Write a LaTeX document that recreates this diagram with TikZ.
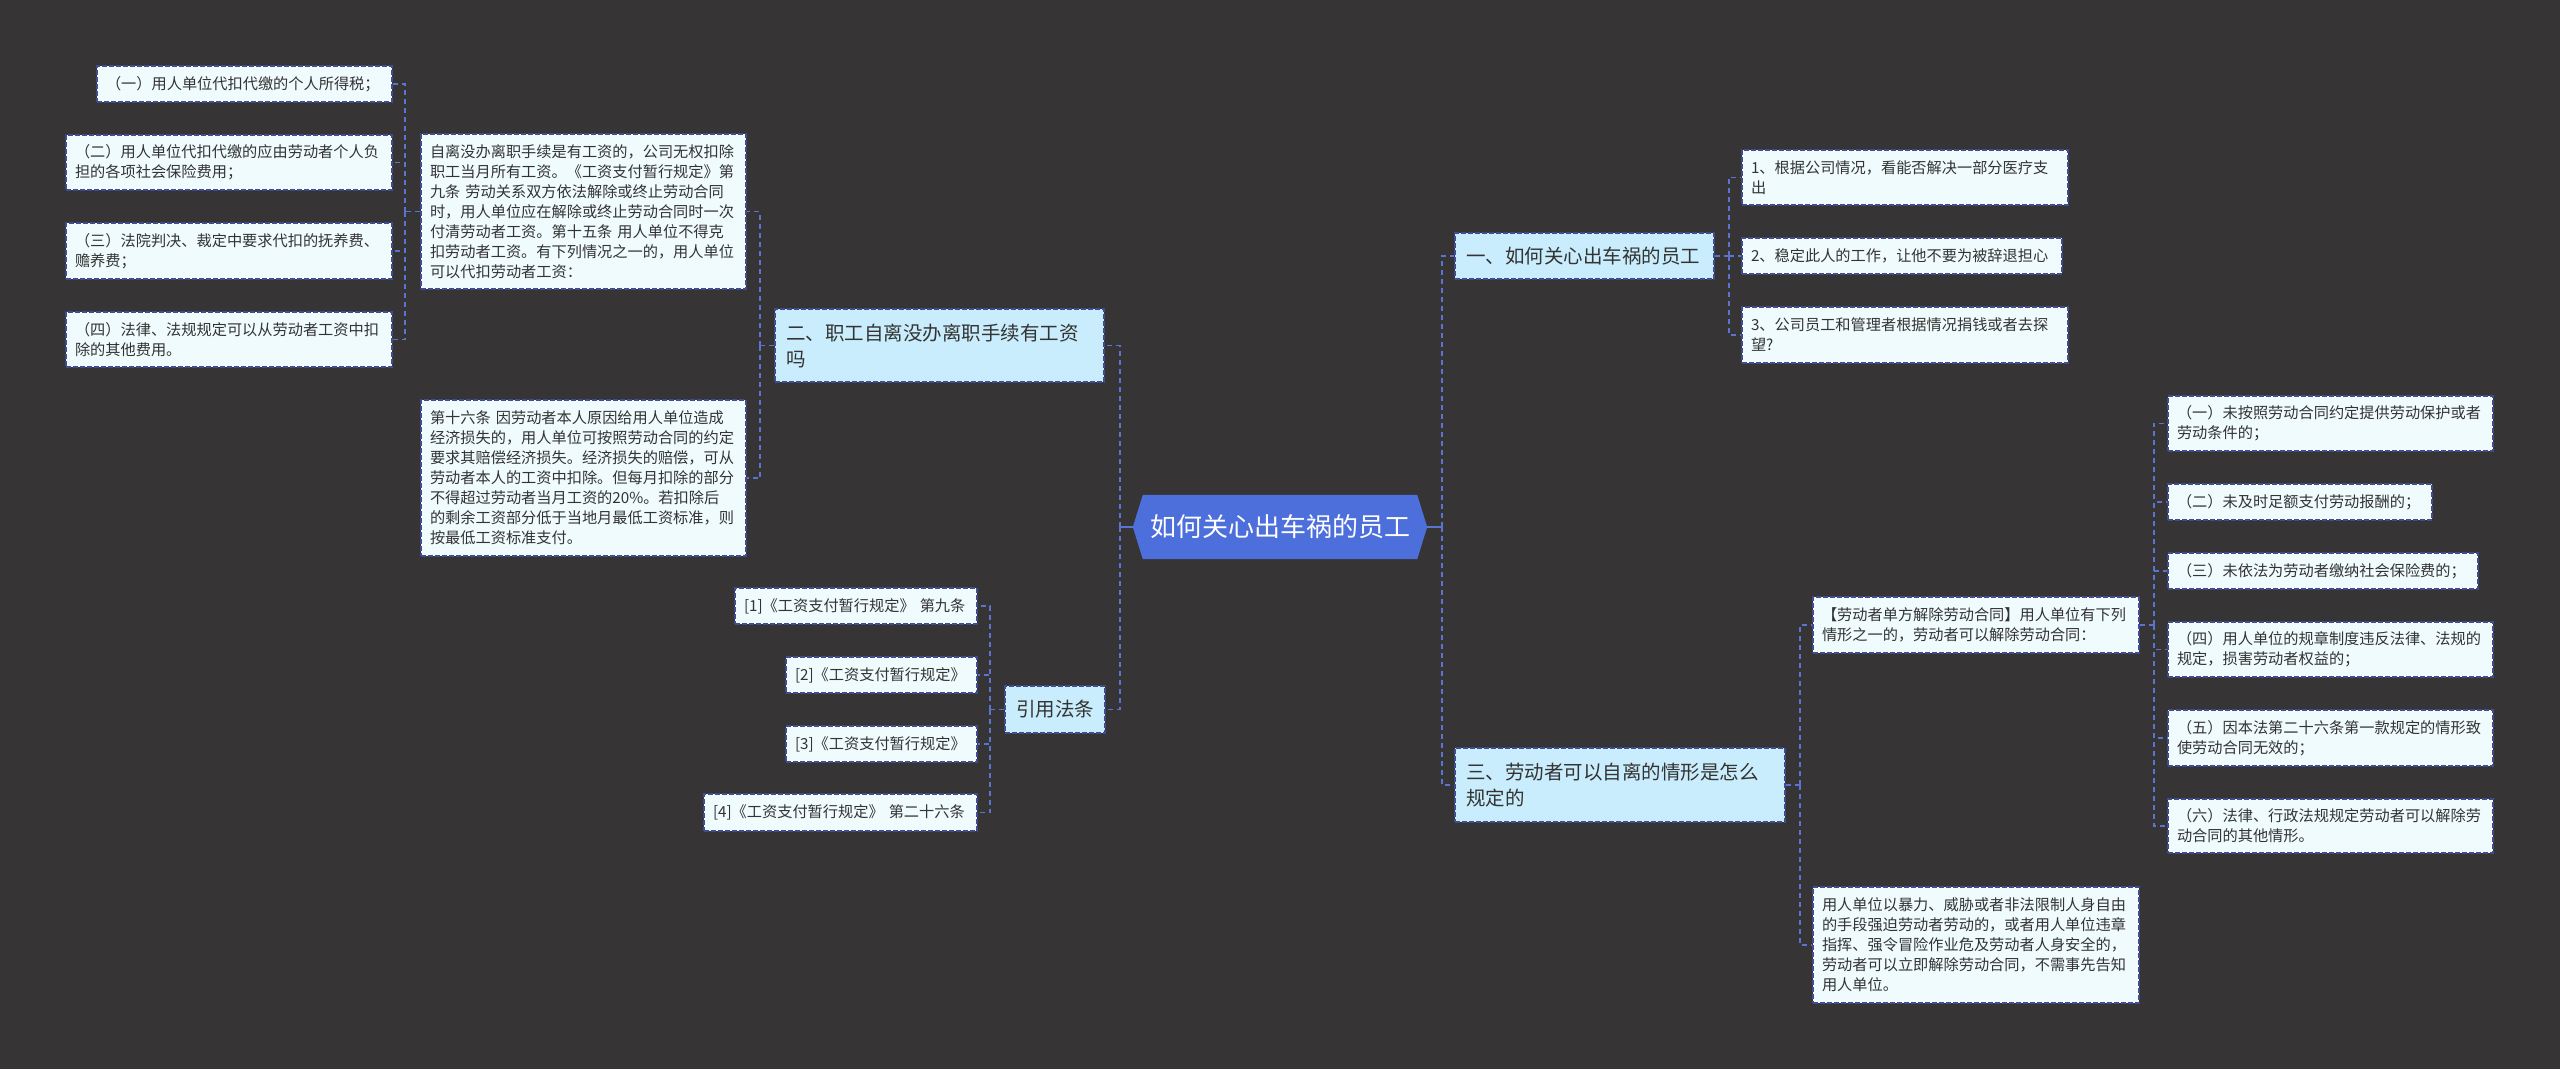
\documentclass[tikz,border=0pt]{standalone}
\usepackage{fontspec}
\setmainfont{Noto Sans CJK SC}
\usetikzlibrary{calc}
\definecolor{bgc}{HTML}{363435}
\definecolor{leafc}{HTML}{F0FBFD}
\definecolor{lvlc}{HTML}{C9EDFC}
\definecolor{ctrc}{HTML}{4D6FDB}
\definecolor{bordc}{HTML}{3F4C92}
\definecolor{connc}{HTML}{5A74D2}
\definecolor{txtc}{HTML}{333333}
\tikzset{
  boxbase/.style={draw=bordc, line width=1.6pt, dash pattern=on 5pt off 2pt, text=txtc, align=left, inner ysep=0pt},
  leaf/.style={boxbase, fill=leafc, inner xsep=9pt, font=\fontsize{15.2}{20}\selectfont},
  lvl/.style={boxbase, fill=lvlc, inner xsep=11pt, font=\fontsize{19.5}{26}\selectfont},
  conn/.style={draw=connc, line width=1.8pt, dash pattern=on 5pt off 4pt},
  stub/.style={draw=connc, line width=2pt},
}
\begin{document}
\begin{tikzpicture}[x=1pt,y=-1pt]
\fill[bgc] (0,0) rectangle (2560,1069);
\useasboundingbox (0,0) rectangle (2560,1069);

% centre
\node[minimum width=294pt, minimum height=64pt, inner sep=0pt] (ctr) at (1280,527) {};
\fill[ctrc] (ctr.west) -- ($(ctr.north west)+(10,0)$) -- ($(ctr.north east)+(-10,0)$) -- (ctr.east) -- ($(ctr.south east)+(-10,0)$) -- ($(ctr.south west)+(10,0)$) -- cycle;
\node[text=white, font=\fontsize{26}{30}\selectfont] (ctrt) at (ctr.center) {如何关心出车祸的员工};

% left level 1
\node[lvl, text width=307pt, minimum height=73pt] (n2) at (939.5,345.5) {二、职工自离没办离职手续有工资\\吗};
\node[lvl, text width=78pt, minimum height=47pt, align=center] (nr) at (1055,709.5) {引用法条};

% left leaves
\node[leaf, text width=307pt, minimum height=155pt] (b1) at (583.5,211.5) {自离没办离职手续是有工资的，公司无权扣除\\职工当月所有工资。《工资支付暂行规定》第\\九条~劳动关系双方依法解除或终止劳动合同\\时，用人单位应在解除或终止劳动合同时一次\\付清劳动者工资。第十五条~用人单位不得克\\扣劳动者工资。有下列情况之一的，用人单位\\可以代扣劳动者工资：};
\node[leaf, text width=307pt, minimum height=156pt] (b2) at (583.5,478) {第十六条~因劳动者本人原因给用人单位造成\\经济损失的，用人单位可按照劳动合同的约定\\要求其赔偿经济损失。经济损失的赔偿，可从\\劳动者本人的工资中扣除。但每月扣除的部分\\不得超过劳动者当月工资的20\%。若扣除后\\的剩余工资部分低于当地月最低工资标准，则\\按最低工资标准支付。};

\node[leaf, text width=277pt, minimum height=36pt] (l1) at (244.5,84) {（一）用人单位代扣代缴的个人所得税；};
\node[leaf, text width=308pt, minimum height=55pt] (l2) at (229,162.5) {（二）用人单位代扣代缴的应由劳动者个人负\\担的各项社会保险费用；};
\node[leaf, text width=308pt, minimum height=56pt] (l3) at (229,251) {（三）法院判决、裁定中要求代扣的抚养费、\\赡养费；};
\node[leaf, text width=308pt, minimum height=55pt] (l4) at (229,339.5) {（四）法律、法规规定可以从劳动者工资中扣\\除的其他费用。};

\node[leaf, text width=224pt, minimum height=36pt] (r1) at (856,606) {[1]《工资支付暂行规定》~第九条};
\node[leaf, text width=173pt, minimum height=36pt] (r2) at (881.5,675) {[2]《工资支付暂行规定》};
\node[leaf, text width=173pt, minimum height=36pt] (r3) at (881.5,744) {[3]《工资支付暂行规定》};
\node[leaf, text width=255pt, minimum height=37pt] (r4) at (840.5,812.5) {[4]《工资支付暂行规定》~第二十六条};

% right level 1
\node[lvl, text width=237pt, minimum height=46pt] (n1) at (1584.5,256) {一、如何关心出车祸的员工};
\node[lvl, text width=308pt, minimum height=74pt] (n3) at (1620,785) {三、劳动者可以自离的情形是怎么\\规定的};

% right leaves
\node[leaf, text width=308pt, minimum height=55pt] (c1) at (1905,177.5) {1、根据公司情况，看能否解决一部分医疗支\\出};
\node[leaf, text width=302pt, minimum height=36pt] (c2) at (1902,256) {2、稳定此人的工作，让他不要为被辞退担心};
\node[leaf, text width=308pt, minimum height=56pt] (c3) at (1905,335) {3、公司员工和管理者根据情况捐钱或者去探\\望?};

\node[leaf, text width=308pt, minimum height=56pt] (d1) at (1976,625) {【劳动者单方解除劳动合同】用人单位有下列\\情形之一的，劳动者可以解除劳动合同：};
\node[leaf, text width=308pt, minimum height=116pt] (d2) at (1976,945) {用人单位以暴力、威胁或者非法限制人身自由\\的手段强迫劳动者劳动的，或者用人单位违章\\指挥、强令冒险作业危及劳动者人身安全的，\\劳动者可以立即解除劳动合同，不需事先告知\\用人单位。};

\node[leaf, text width=307pt, minimum height=55pt] (e1) at (2330.5,423.5) {（一）未按照劳动合同约定提供劳动保护或者\\劳动条件的；};
\node[leaf, text width=246pt, minimum height=36pt] (e2) at (2300,502) {（二）未及时足额支付劳动报酬的；};
\node[leaf, text width=292pt, minimum height=36pt] (e3) at (2323,571) {（三）未依法为劳动者缴纳社会保险费的；};
\node[leaf, text width=307pt, minimum height=55pt] (e4) at (2330.5,649.5) {（四）用人单位的规章制度违反法律、法规的\\规定，损害劳动者权益的；};
\node[leaf, text width=307pt, minimum height=56pt] (e5) at (2330.5,738) {（五）因本法第二十六条第一款规定的情形致\\使劳动合同无效的；};
\node[leaf, text width=307pt, minimum height=54pt] (e6) at (2330.5,826) {（六）法律、行政法规规定劳动者可以解除劳\\动合同的其他情形。};

% connectors right
\coordinate (jR) at ($(ctr.east)+(15,0)$);
\draw[stub] (ctr.east) -- (jR);
\draw[conn] (jR) |- (n1.west);
\draw[conn] (jR) |- (n3.west);

\coordinate (j1) at ($(n1.east)+(14,0)$);
\draw[conn] (n1.east) -- (j1);
\foreach \c in {c1,c2,c3} \draw[conn] (j1) |- (\c.west);

\coordinate (j3) at ($(n3.east)+(14,0)$);
\draw[conn] (n3.east) -- (j3);
\foreach \c in {d1,d2} \draw[conn] (j3) |- (\c.west);

\coordinate (jd) at ($(d1.east)+(14,0)$);
\draw[conn] (d1.east) -- (jd);
\foreach \c in {e1,e2,e3,e4,e5,e6} \draw[conn] (jd) |- (\c.west);

% connectors left
\coordinate (jL) at ($(ctr.west)+(-13,0)$);
\draw[stub] (ctr.west) -- (jL);
\draw[conn] (jL) |- (n2.east);
\draw[conn] (jL) |- (nr.east);

\coordinate (j2) at ($(n2.west)+(-14,0)$);
\draw[conn] (n2.west) -- (j2);
\foreach \c in {b1,b2} \draw[conn] (j2) |- (\c.east);

\coordinate (jb) at ($(b1.west)+(-15,0)$);
\draw[conn] (b1.west) -- (jb);
\foreach \c in {l1,l2,l3,l4} \draw[conn] (jb) |- (\c.east);

\coordinate (jr) at ($(nr.west)+(-14,0)$);
\draw[conn] (nr.west) -- (jr);
\foreach \c in {r1,r2,r3,r4} \draw[conn] (jr) |- (\c.east);
\end{tikzpicture}
\end{document}
